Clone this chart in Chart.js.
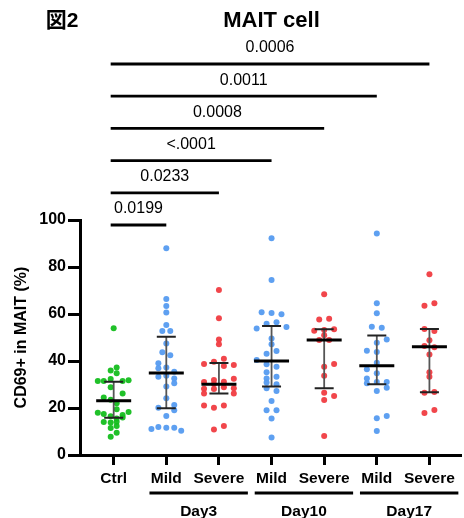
<!DOCTYPE html>
<html>
<head>
<meta charset="utf-8">
<script src="https://cdn.jsdelivr.net/npm/chart.js@4.4.1/dist/chart.umd.min.js"></script>
<style>
html, body { margin: 0; padding: 0; background: #fff; }
#wrap { width: 464px; height: 518px; }
</style>
</head>
<body>
<div id="wrap"><canvas id="c"></canvas></div>
<script>
const groups = ["Ctrl", "Mild", "Severe", "Mild", "Severe", "Mild", "Severe"]
const days = ["Day3", "Day10", "Day17"]

// values, jitter is the sideways offset of each dot in px
const ctrlVals = [53.9,37.2,36.0,34.8,31.5,31.5,32.3,31.5,31.8,28.8,26.2,24.5,23.5,22.0,19.5,18.0,17.5,17.0,18.3,16.5,15.5,16.0,14.0,13.8,14.2,11.5,12.3,9.5,7.8]
const ctrlJit  = [0,3,-3,3,-16,-10,-3,9,15,-3,9,-10,-3,3,3,-16,-10,9,15,-3,3,9,-10,-3,3,-3,3,3,-3]
const mild3Vals = [88.0,66.4,63.4,60.6,55.3,52.8,52.8,47.5,43.7,42.5,39.0,37.2,36.9,35.4,33.3,33.7,32.6,30.5,29.1,24.1,21.3,20.1,19.0,16.6,11.1,11.9,11.6,11.6,10.3]
const mild3Jit  = [0,0,0,0,0,-4,4,0,-4,4,-8,0,-8,8,-8,0,8,8,0,0,8,-8,8,0,-15,-8,0,8,15]
const sev3Vals = [70.2,58.2,49.2,47.1,38.7,39.7,41.0,37.9,38.3,32.5,31.1,31.9,31.2,30.2,28.2,26.2,28.1,28.8,28.4,26.2,21.1,20.1,21.1,10.8,12.3]
const sev3Jit  = [0,0,0,0,-15,-5,5,5,15,15,-15,-5,5,-5,-15,-15,-5,5,15,15,-15,-5,5,-5,5]
const mild10Vals = [92.2,74.5,60.7,60.4,59.9,55.9,56.5,53.8,54.5,49.6,47.1,43.1,44.3,40.4,38.6,37.6,35.2,33.3,32.6,30.9,30.1,28.4,27.2,23.0,19.0,19.0,15.5,7.5]
const mild10Jit  = [0,0,-10,0,10,-5,5,-15,15,0,0,-5,5,-15,-5,5,-5,5,-5,-5,5,-5,5,0,-5,5,0,0]
const sev10Vals = [68.4,57.7,58.0,52.9,53.2,53.5,51.0,48.9,48.9,37.6,38.7,33.7,26.5,25.1,23.4,8.1]
const sev10Jit  = [0,-5,5,-10,0,10,0,-5,5,0,10,0,0,10,0,0]
const mild17Vals = [94.3,64.6,60.3,54.6,54.2,49.2,47.8,44.4,43.8,39.3,36.5,34.8,32.6,30.5,31.1,31.1,28.6,27.2,16.6,15.6,10.2]
const mild17Jit  = [0,0,0,-5,5,10,0,-10,0,0,-10,0,-10,-10,0,10,10,0,10,0,0]
const sev17Vals = [76.9,63.5,64.6,53.6,52.8,48.8,46.4,45.8,42.8,35.2,33.3,26.5,26.8,17.9,19.1]
const sev17Jit  = [0,-5,5,-5,5,0,-5,5,0,0,0,-5,5,-5,5]

// median with interquartile range
const medians = [23.1, 34.9, 30.1, 40.0, 48.9, 38.0, 46.1]
const q1 = [15.9, 19.9, 26.2, 29.1, 28.4, 30.1, 26.7]
const q3 = [31.2, 50.3, 39.1, 54.9, 53.5, 50.9, 53.6]

// Ctrl vs each group
const pTargets = [1, 2, 3, 4, 5, 6]
const pLabels = ["0.0199", "0.0233", "<.0001", "0.0008", "0.0011", "0.0006"]

const yTicks = [0, 20, 40, 60, 80, 100]

const GREEN = "rgba(20,190,30,0.95)"
const BLUE = "rgba(85,155,240,0.95)"
const RED = "rgba(240,60,65,0.95)"
const colors = [GREEN, BLUE, RED, BLUE, RED, BLUE, RED]
const allVals = [ctrlVals, mild3Vals, sev3Vals, mild10Vals, sev10Vals, mild17Vals, sev17Vals]
const allJit = [ctrlJit, mild3Jit, sev3Jit, mild10Jit, sev10Jit, mild17Jit, sev17Jit]

const FONT = "'Liberation Sans', Arial, sans-serif"
const PX_PER_CAT = 53

const datasets = allVals.map((vals, i) => ({
    label: groups[i],
    data: vals.map((v, k) => ({ x: i + allJit[i][k] / PX_PER_CAT, y: v })),
    backgroundColor: colors[i],
    borderWidth: 0,
    pointRadius: 3,
    pointHoverRadius: 3
}))

const extras = {
    id: "extras",
    afterDatasetsDraw(chart) {
        const ctx = chart.ctx
        const xs = chart.scales.x
        const ys = chart.scales.y
        const area = chart.chartArea
        ctx.save()

        // median + IQR bars
        medians.forEach((m, i) => {
            const cx = xs.getPixelForValue(i)
            const yM = ys.getPixelForValue(m)
            const yL = ys.getPixelForValue(q1[i])
            const yH = ys.getPixelForValue(q3[i])
            ctx.strokeStyle = "#555"
            ctx.lineWidth = 1.8
            ctx.beginPath(); ctx.moveTo(cx, yH); ctx.lineTo(cx, yL); ctx.stroke()
            ctx.strokeStyle = "#222"
            ctx.lineWidth = 2
            ctx.beginPath()
            ctx.moveTo(cx - 9.5, yH); ctx.lineTo(cx + 9.5, yH)
            ctx.moveTo(cx - 9.5, yL); ctx.lineTo(cx + 9.5, yL)
            ctx.stroke()
            ctx.strokeStyle = "#000"
            ctx.lineWidth = 3
            ctx.beginPath(); ctx.moveTo(cx - 17.5, yM); ctx.lineTo(cx + 17.5, yM); ctx.stroke()
        })

        // significance brackets
        ctx.fillStyle = "#000"
        ctx.font = "16px " + FONT
        ctx.textAlign = "center"
        ctx.textBaseline = "middle"
        const x0 = xs.getPixelForValue(0) - 3
        pTargets.forEach((t, i) => {
            const y = area.top + 5 - i * 32.2
            const x1 = xs.getPixelForValue(t)
            ctx.strokeStyle = "#000"
            ctx.lineWidth = 2.8
            ctx.beginPath(); ctx.moveTo(x0, y); ctx.lineTo(x1, y); ctx.stroke()
            ctx.fillText(pLabels[i], (x0 + x1) / 2, y - 16)
        })

        // day group underlines and labels
        ctx.font = "bold 15.5px " + FONT
        days.forEach((d, i) => {
            const a = xs.getPixelForValue(1 + i * 2 - 0.32)
            const b = xs.getPixelForValue(2 + i * 2 + 0.55)
            ctx.lineWidth = 3
            ctx.beginPath(); ctx.moveTo(a, 493); ctx.lineTo(Math.min(b, chart.width), 493); ctx.stroke()
            ctx.fillText(d, (a + b) / 2, 512)
        })

        // titles
        ctx.font = "bold 22px " + FONT
        ctx.fillText("MAIT cell", (area.left + area.right) / 2 + 1, 21)
        ctx.font = "bold 21px 'Liberation Sans', 'Noto Sans CJK JP', sans-serif"
        ctx.fillText("図2", 62, 21)

        // y axis title
        ctx.translate(21.5, (area.top + area.bottom) / 2)
        ctx.rotate(-Math.PI / 2)
        ctx.font = "bold 16px " + FONT
        ctx.fillText("CD69+ in MAIT (%)", 0, 0)
        ctx.restore()
    }
}

new Chart(document.getElementById("c"), {
    type: "scatter",
    data: { datasets: datasets },
    options: {
        responsive: true,
        maintainAspectRatio: false,
        animation: false,
        layout: { padding: { top: 220, left: 0, right: 0, bottom: 0 } },
        plugins: { legend: { display: false }, tooltip: { enabled: false } },
        scales: {
            x: {
                type: "linear",
                min: -0.64,
                max: 6.6,
                afterBuildTicks: s => { s.ticks = groups.map((g, i) => ({ value: i })) },
                afterFit: s => { s.height = 63 },
                ticks: {
                    callback: (v, i) => groups[i],
                    font: { family: FONT, size: 15.5, weight: "bold" },
                    color: "#000",
                    padding: 4,
                    autoSkip: false,
                    maxRotation: 0
                },
                grid: { drawOnChartArea: false, tickLength: 10, tickWidth: 3, tickColor: "#000" },
                border: { display: true, width: 3, color: "#000" }
            },
            y: {
                min: 0,
                max: 100,
                afterBuildTicks: s => { s.ticks = yTicks.map(v => ({ value: v })) },
                afterFit: s => { s.width = 80 },
                ticks: {
                    font: { family: FONT, size: 16, weight: "bold" },
                    color: "#000",
                    padding: 2
                },
                grid: { drawOnChartArea: false, tickLength: 12, tickWidth: 3, tickColor: "#000" },
                border: { display: true, width: 3, color: "#000" }
            }
        }
    },
    plugins: [extras]
})
</script>
</body>
</html>
